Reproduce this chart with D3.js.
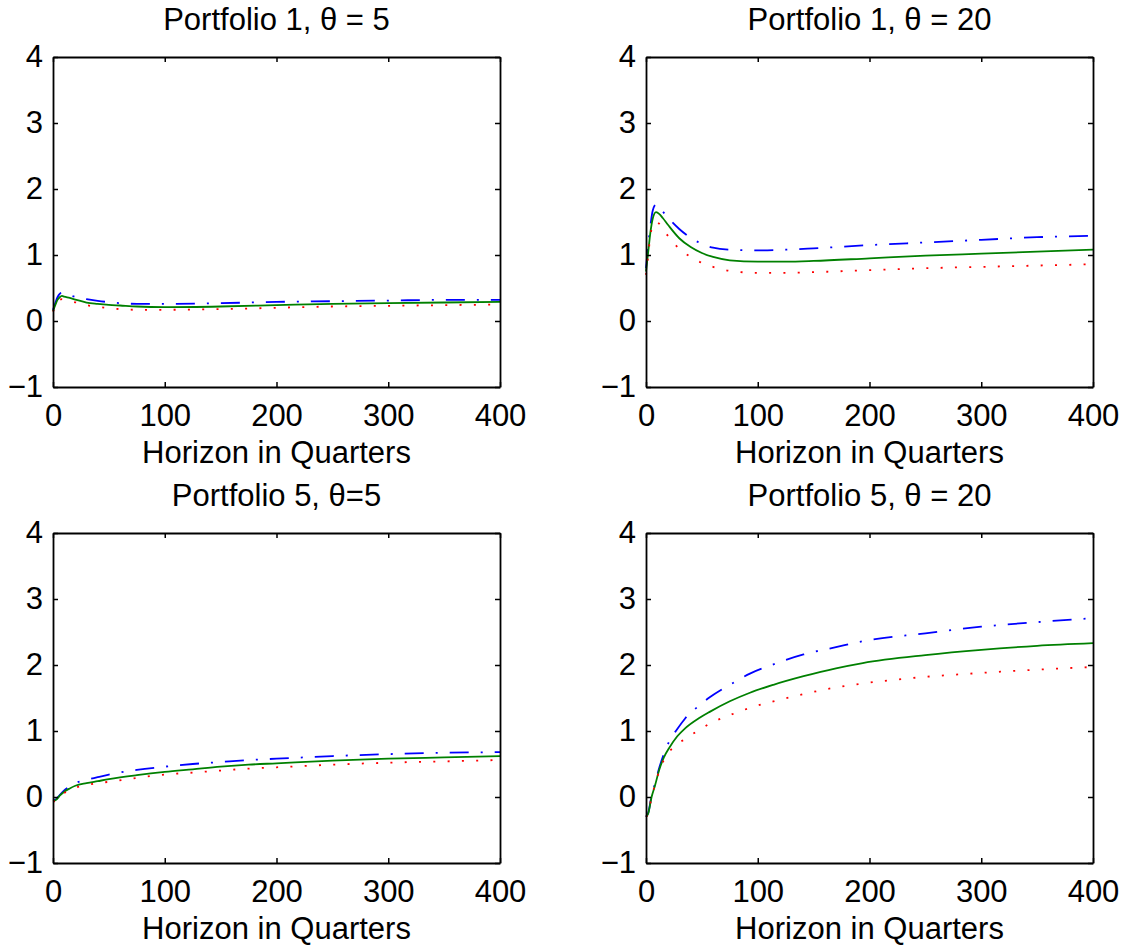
<!DOCTYPE html>
<html>
<head>
<meta charset="utf-8">
<script src="https://cdn.jsdelivr.net/npm/d3@7"></script>
<style>
  body { margin: 0; background: #fff; }
  svg { display: block; font-family: "Liberation Sans", Arial, sans-serif; }
</style>
</head>
<body>
<svg id="chart" width="1133" height="948"></svg>
<script>
// ---- data ----
const titles = ["Portfolio 1, \u03b8 = 5", "Portfolio 1, \u03b8 = 20", "Portfolio 5, \u03b8=5", "Portfolio 5, \u03b8 = 20"];
const xLabel = "Horizon in Quarters";
const xTicks = [0, 100, 200, 300, 400];
const yTicks = [-1, 0, 1, 2, 3, 4];

// Portfolio 1, theta = 5
const p1t5X     = [0, 2, 4, 6, 8, 10, 15, 21, 30, 40, 50, 60, 75, 100, 150, 200, 250, 300, 350, 400];
const p1t5Blue  = [0.17, 0.27, 0.36, 0.41, 0.43, 0.42, 0.39, 0.36, 0.33, 0.305, 0.285, 0.27, 0.26, 0.26, 0.27, 0.29, 0.30, 0.31, 0.32, 0.32];
const p1t5Green = [0.15, 0.24, 0.32, 0.36, 0.38, 0.37, 0.35, 0.32, 0.28, 0.26, 0.245, 0.235, 0.22, 0.21, 0.22, 0.24, 0.26, 0.27, 0.28, 0.29];
const p1t5Red   = [0.14, 0.21, 0.28, 0.32, 0.33, 0.32, 0.30, 0.28, 0.24, 0.215, 0.195, 0.18, 0.17, 0.17, 0.18, 0.20, 0.22, 0.23, 0.24, 0.25];

// Portfolio 1, theta = 20
const p1t20X     = [0, 2, 4, 6, 9, 12, 15, 20, 30, 40, 50, 60, 75, 100, 125, 150, 200, 250, 300, 350, 400];
const p1t20Blue  = [0.80, 1.15, 1.45, 1.67, 1.77, 1.73, 1.66, 1.56, 1.39, 1.26, 1.17, 1.11, 1.08, 1.07, 1.08, 1.10, 1.15, 1.19, 1.23, 1.27, 1.29];
const p1t20Green = [0.75, 1.05, 1.35, 1.55, 1.65, 1.62, 1.56, 1.45, 1.25, 1.12, 1.03, 0.97, 0.92, 0.90, 0.90, 0.91, 0.95, 0.99, 1.02, 1.05, 1.08];
const p1t20Red   = [0.70, 1.00, 1.30, 1.45, 1.50, 1.47, 1.40, 1.28, 1.09, 0.97, 0.88, 0.82, 0.76, 0.73, 0.73, 0.74, 0.77, 0.80, 0.82, 0.84, 0.86];

// Portfolio 5, theta = 5
const p5t5X     = [0, 3, 6, 10, 15, 20, 30, 40, 50, 75, 100, 125, 150, 175, 200, 250, 300, 350, 400];
const p5t5Blue  = [-0.05, -0.03, 0.03, 0.10, 0.16, 0.21, 0.26, 0.30, 0.34, 0.41, 0.46, 0.50, 0.53, 0.56, 0.58, 0.62, 0.65, 0.67, 0.68];
const p5t5Green = [-0.06, -0.04, 0.02, 0.08, 0.13, 0.17, 0.21, 0.24, 0.27, 0.33, 0.38, 0.42, 0.46, 0.49, 0.51, 0.55, 0.58, 0.60, 0.62];
const p5t5Red   = [-0.07, -0.05, 0.01, 0.06, 0.11, 0.14, 0.18, 0.21, 0.23, 0.29, 0.34, 0.37, 0.40, 0.43, 0.45, 0.49, 0.52, 0.54, 0.56];

// Portfolio 5, theta = 20
const p5t20X     = [0, 2, 5, 8, 12, 16, 21, 28, 35, 48, 57, 75, 93, 114, 141, 170, 194, 250, 300, 350, 400];
const p5t20Blue  = [-0.30, -0.24, 0.02, 0.20, 0.45, 0.65, 0.85, 1.03, 1.19, 1.39, 1.51, 1.70, 1.87, 2.01, 2.16, 2.27, 2.36, 2.48, 2.58, 2.65, 2.71];
const p5t20Green = [-0.30, -0.25, 0.00, 0.17, 0.42, 0.60, 0.75, 0.92, 1.04, 1.20, 1.29, 1.45, 1.58, 1.70, 1.83, 1.95, 2.03, 2.15, 2.23, 2.29, 2.33];
const p5t20Red   = [-0.30, -0.25, 0.00, 0.18, 0.40, 0.56, 0.69, 0.80, 0.88, 1.02, 1.11, 1.24, 1.35, 1.45, 1.56, 1.66, 1.72, 1.82, 1.88, 1.93, 1.97];

const panels = [
  { x: p1t5X,  blue: p1t5Blue,  green: p1t5Green,  red: p1t5Red },
  { x: p1t20X, blue: p1t20Blue, green: p1t20Green, red: p1t20Red },
  { x: p5t5X,  blue: p5t5Blue,  green: p5t5Green,  red: p5t5Red },
  { x: p5t20X, blue: p5t20Blue, green: p5t20Green, red: p5t20Red }
];

// ---- layout ----
const cols = [53, 646];
const rows = [57, 533];
const W = 447, H = 330;
const fontSize = 31;

const svg = d3.select("#chart");

panels.forEach((p, i) => {
  const left = cols[i % 2], top = rows[Math.floor(i / 2)];
  const g = svg.append("g").attr("transform", `translate(${left},${top})`);
  const x = d3.scaleLinear().domain([0, 400]).range([0, W]);
  const y = d3.scaleLinear().domain([-1, 4]).range([H, 0]);

  const line = d3.line().x(d => x(d[0])).y(d => y(d[1])).curve(d3.curveMonotoneX);
  const series = [
    { vals: p.blue,  color: "#0000ff", dash: "19,12,2,12", w: 1.8 },
    { vals: p.green, color: "#008000", dash: null, w: 1.8 },
    { vals: p.red,   color: "#ff0000", dash: "2,12.3", w: 1.8 }
  ];
  series.forEach(s => {
    const pts = p.x.map((xv, k) => [xv, s.vals[k]]);
    const path = g.append("path").attr("d", line(pts))
      .attr("fill", "none").attr("stroke", s.color).attr("stroke-width", s.w);
    if (s.dash) path.attr("stroke-dasharray", s.dash);
  });

  // axes
  const ax = [
    g.append("g").attr("transform", `translate(0,${H})`).call(d3.axisBottom(x).tickValues(xTicks).tickSize(-5).tickSizeOuter(0).tickPadding(17)),
    g.append("g").call(d3.axisTop(x).tickValues(xTicks).tickSize(-5).tickSizeOuter(0).tickFormat("")),
    g.append("g").call(d3.axisLeft(y).tickValues(yTicks).tickSize(-5).tickSizeOuter(0).tickPadding(10).tickFormat(d => d < 0 ? "\u2212" + Math.abs(d) : d)),
    g.append("g").attr("transform", `translate(${W},0)`).call(d3.axisRight(y).tickValues(yTicks).tickSize(-5).tickSizeOuter(0).tickFormat(""))
  ];
  ax.forEach(a => {
    a.selectAll("path.domain").attr("stroke", "#000").attr("stroke-width", 1.8);
    a.selectAll(".tick line").attr("stroke", "#000").attr("stroke-width", 1.5);
    a.selectAll(".tick text").attr("font-size", fontSize).attr("fill", "#000")
      .attr("font-family", "Liberation Sans, Arial, sans-serif");
  });

  g.append("text").attr("x", W / 2).attr("y", -27).attr("text-anchor", "middle")
    .attr("font-size", fontSize).attr("fill", "#000").text(titles[i]);
  g.append("text").attr("x", W / 2).attr("y", H + 76).attr("text-anchor", "middle")
    .attr("font-size", fontSize).attr("fill", "#000").text(xLabel);
});
</script>
</body>
</html>
